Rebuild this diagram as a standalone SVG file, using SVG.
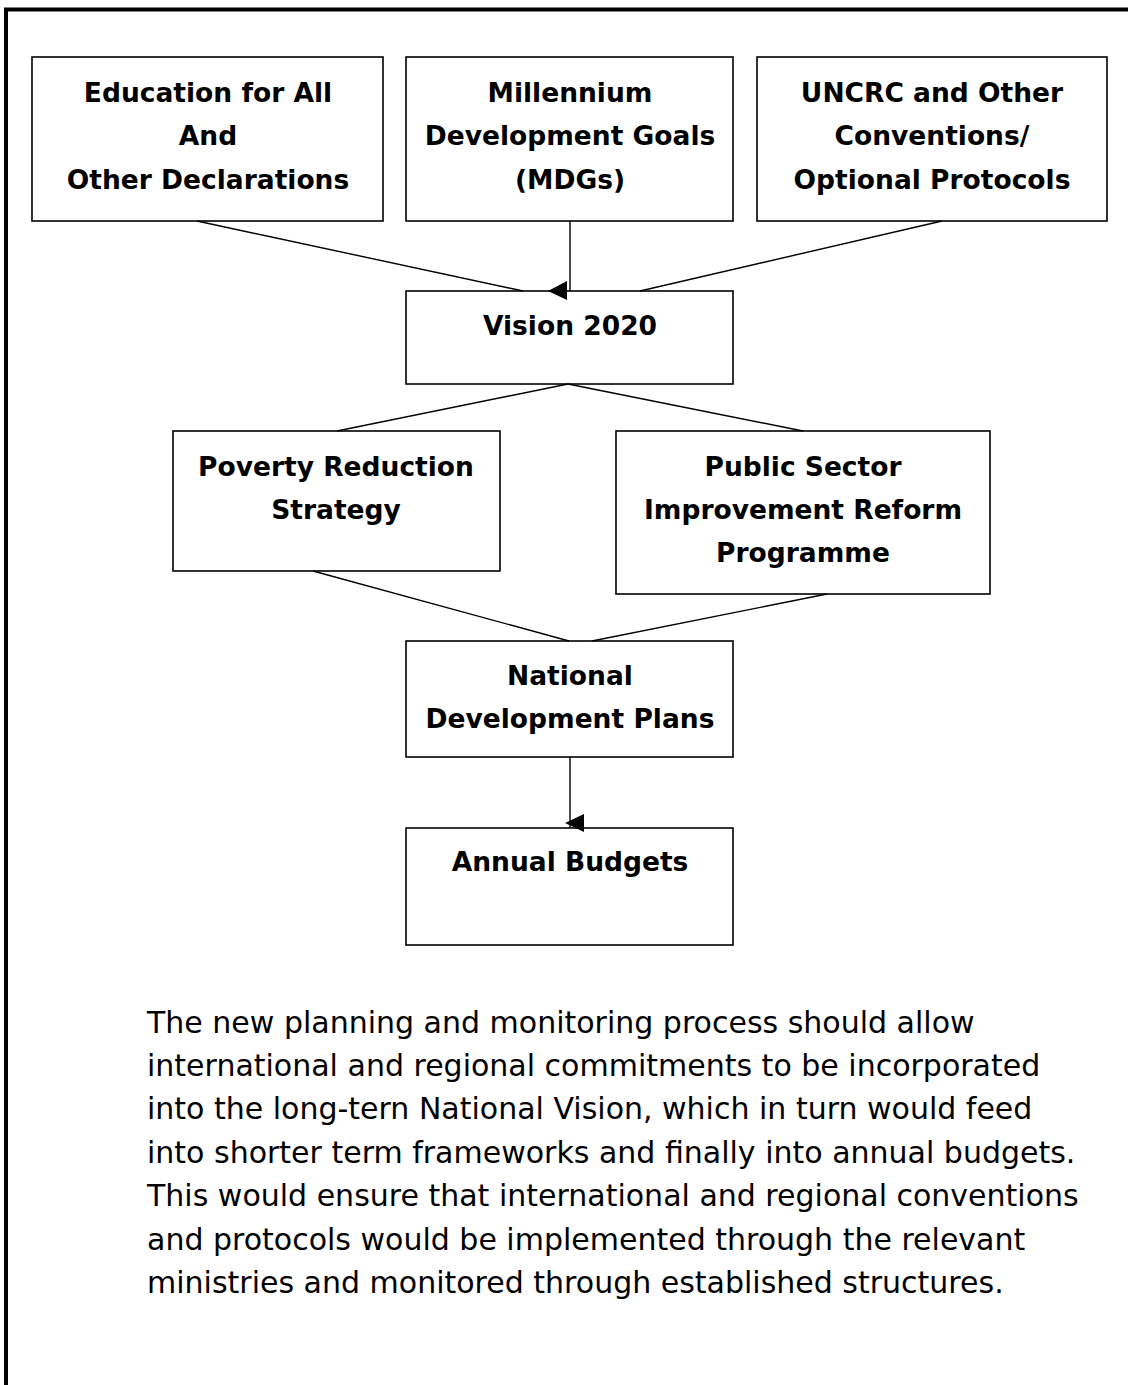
<svg xmlns="http://www.w3.org/2000/svg" width="1128" height="1385" viewBox="0 0 1128 1385">
<style>
.box{fill:#fff;stroke:#000;stroke-width:1.6}
.lbl{font-family:"DejaVu Sans",sans-serif;font-weight:bold;font-size:26.5px;text-anchor:middle;fill:#000}
.con{stroke:#000;stroke-width:1.4;fill:none}
.para{font-family:"DejaVu Sans",sans-serif;font-size:30px;fill:#000}
</style>
<rect width="1128" height="1385" fill="#fff"/>
<path d="M6,1385 V9.5 H1128" fill="none" stroke="#000" stroke-width="4"/>
<g id="n-efa">
<rect class="box" x="32" y="57" width="351" height="164"/>
<text class="lbl" x="208" y="102">Education for All</text>
<text class="lbl" x="208" y="145">And</text>
<text class="lbl" x="208" y="189">Other Declarations</text>
</g>
<g id="n-mdg">
<rect class="box" x="406" y="57" width="327" height="164"/>
<text class="lbl" x="570" y="102">Millennium</text>
<text class="lbl" x="570" y="145">Development Goals</text>
<text class="lbl" x="570" y="189">(MDGs)</text>
</g>
<g id="n-uncrc">
<rect class="box" x="757" y="57" width="350" height="164"/>
<text class="lbl" x="932" y="102">UNCRC and Other</text>
<text class="lbl" x="932" y="145">Conventions/</text>
<text class="lbl" x="932" y="189">Optional Protocols</text>
</g>
<g id="n-vision">
<rect class="box" x="406" y="291" width="327" height="93"/>
<text class="lbl" x="570" y="335">Vision 2020</text>
</g>
<g id="n-prs">
<rect class="box" x="173" y="431" width="327" height="140"/>
<text class="lbl" x="336" y="476">Poverty Reduction</text>
<text class="lbl" x="336" y="519">Strategy</text>
</g>
<g id="n-psirp">
<rect class="box" x="616" y="431" width="374" height="163"/>
<text class="lbl" x="803" y="476">Public Sector</text>
<text class="lbl" x="803" y="519">Improvement Reform</text>
<text class="lbl" x="803" y="562">Programme</text>
</g>
<g id="n-ndp">
<rect class="box" x="406" y="641" width="327" height="116"/>
<text class="lbl" x="570" y="685">National</text>
<text class="lbl" x="570" y="728">Development Plans</text>
</g>
<g id="n-budget">
<rect class="box" x="406" y="828" width="327" height="117"/>
<text class="lbl" x="570" y="871">Annual Budgets</text>
</g>
<g id="connectors">
<line class="con" x1="197" y1="221" x2="523" y2="291"/>
<line class="con" x1="570" y1="221" x2="570" y2="291"/>
<polygon points="548,291 567,281 567,300" fill="#000"/>
<line class="con" x1="942" y1="221" x2="640" y2="291"/>
<line class="con" x1="568" y1="384" x2="337" y2="431"/>
<line class="con" x1="568" y1="384" x2="803" y2="431"/>
<line class="con" x1="313" y1="571" x2="569" y2="641"/>
<line class="con" x1="827" y1="594" x2="592" y2="641"/>
<line class="con" x1="570" y1="757" x2="570" y2="828"/>
<polygon points="565,823 584,814 584,832" fill="#000"/>
</g>
<g id="paragraph">
<text class="para" x="147" y="1033">The new planning and monitoring process should allow</text>
<text class="para" x="147" y="1076">international and regional commitments to be incorporated</text>
<text class="para" x="147" y="1119">into the long-tern National Vision, which in turn would feed</text>
<text class="para" x="147" y="1163">into shorter term frameworks and finally into annual budgets.</text>
<text class="para" x="147" y="1206">This would ensure that international and regional conventions</text>
<text class="para" x="147" y="1250">and protocols would be implemented through the relevant</text>
<text class="para" x="147" y="1293">ministries and monitored through established structures.</text>
</g>
</svg>
